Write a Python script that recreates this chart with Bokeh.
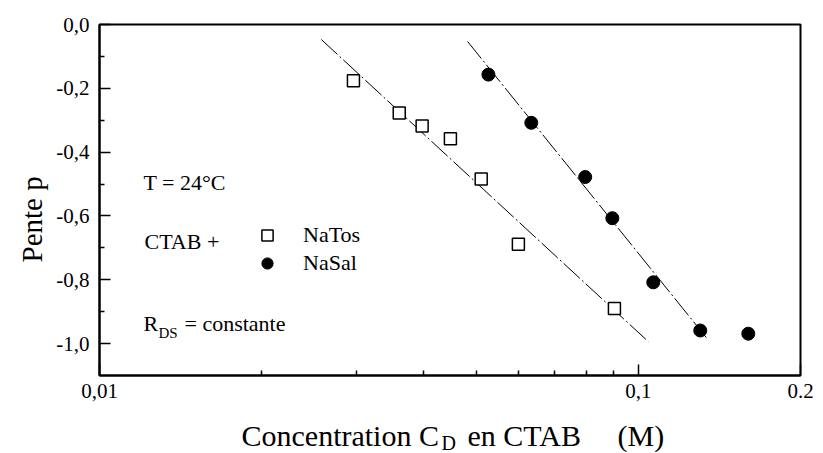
from bokeh.plotting import figure
from bokeh.layouts import column
from bokeh.models import FixedTicker, Label, Legend, LegendItem, Range1d, Title
from bokeh.embed import file_html
from bokeh.resources import INLINE

# ---- data ----
natos_c = [0.0296, 0.0360, 0.0397, 0.0448, 0.0511, 0.0599, 0.0903]
natos_p = [-0.176, -0.277, -0.318, -0.358, -0.484, -0.689, -0.890]
nasal_c = [0.0527, 0.0633, 0.0797, 0.0895, 0.1066, 0.1303, 0.160]
nasal_p = [-0.157, -0.308, -0.478, -0.607, -0.808, -0.959, -0.969]

fit_natos_c = [0.0258, 0.1044]
fit_natos_p = [-0.047, -0.994]
fit_nasal_c = [0.0482, 0.1337]
fit_nasal_p = [-0.053, -0.981]

y_ticks = [0.0, -0.2, -0.4, -0.6, -0.8, -1.0]
y_tick_labels = ["0,0", "-0,2", "-0,4", "-0,6", "-0,8", "-1,0"]
y_minor = [-0.1, -0.3, -0.5, -0.7, -0.9]
x_ticks = [0.01, 0.1, 0.2]
x_tick_labels = ["0,01", "0,1", "0.2"]
x_minor = [0.02, 0.03, 0.04, 0.05, 0.06, 0.07, 0.08, 0.09]

FONT = "Liberation Serif"

p = figure(width=815, height=410, x_axis_type="log",
           x_range=Range1d(0.01, 0.2), y_range=Range1d(-1.1, 0.0),
           output_backend="svg", toolbar_location=None,
           min_border_left=99, min_border_right=15, min_border_top=24, min_border_bottom=35)
p.xgrid.visible = False
p.ygrid.visible = False
p.outline_line_color = "black"
p.outline_line_width = 2
p.background_fill_color = "white"
p.border_fill_color = "white"

# axes
p.yaxis.ticker = FixedTicker(ticks=y_ticks, minor_ticks=y_minor)
p.yaxis.major_label_overrides = dict(zip(y_ticks, y_tick_labels))
p.xaxis.ticker = FixedTicker(ticks=x_ticks, minor_ticks=x_minor)
p.xaxis.major_label_overrides = dict(zip(x_ticks, x_tick_labels))
for ax in (p.xaxis[0], p.yaxis[0]):
    ax.axis_line_width = 2
    ax.axis_line_color = "black"
    ax.major_tick_in = 11
    ax.major_tick_out = 0
    ax.minor_tick_in = 5
    ax.minor_tick_out = 0
    ax.major_tick_line_width = 1.5
    ax.minor_tick_line_width = 1.5
    ax.major_tick_line_color = "black"
    ax.minor_tick_line_color = "black"
    ax.major_label_text_font = FONT
    ax.major_label_text_font_size = "21px"
    ax.major_label_text_color = "black"
p.yaxis.major_label_standoff = 10
p.xaxis.major_label_standoff = 8

# y axis title (offset so it sits where the reference has it)
p.add_layout(Title(text="Pente p", align="left", offset=113, text_font=FONT,
                   text_font_size="29px", text_font_style="normal",
                   text_color="black", standoff=12), "left")

# fit lines
p.line(fit_natos_c, fit_natos_p, line_color="black", line_width=1, line_dash="22 3 2 3")
p.line(fit_nasal_c, fit_nasal_p, line_color="black", line_width=1, line_dash="22 3 2 3")

# points
sq = p.scatter(natos_c, natos_p, marker="square", size=12, fill_color="white",
               line_color="black", line_width=1.5)
ci = p.scatter(nasal_c, nasal_p, marker="circle", size=13, fill_color="black",
               line_color="black")

legend = Legend(items=[LegendItem(label="NaTos", renderers=[sq]),
                       LegendItem(label="NaSal", renderers=[ci])],
                location=(154, 98), glyph_width=28, glyph_height=28, spacing=0,
                padding=0, margin=0, label_standoff=22, border_line_alpha=0,
                background_fill_alpha=0, label_text_font=FONT,
                label_text_font_size="22px", label_text_color="black")
p.add_layout(legend)

def lab(fig, x, y, text, size="22px", units="screen"):
    fig.add_layout(Label(x=x, y=y, x_units=units, y_units=units, text=text,
                         text_font=FONT, text_font_size=size, text_color="black",
                         text_baseline="alphabetic", text_align="left"))

lab(p, 44, 193, "T = 24°C")
lab(p, 45, 134, "CTAB +")
lab(p, 44, 52, "R")
lab(p, 59, 43, "DS", "15px")
lab(p, 85, 52, "= constante")

# x axis title with subscript, in a strip below the plot (frame aligned with p)
p2 = figure(width=815, height=43, x_range=Range1d(99, 800), y_range=Range1d(0, 43),
            x_axis_location=None, y_axis_location=None, output_backend="svg",
            toolbar_location=None, min_border_left=99, min_border_right=15,
            min_border_top=0, min_border_bottom=0)
p2.xgrid.visible = False
p2.ygrid.visible = False
p2.outline_line_color = None
p2.background_fill_color = "white"
p2.border_fill_color = "white"
lab(p2, 241, 18, "Concentration C", "30px", "data")
lab(p2, 441, 11, "D", "20px", "data")
lab(p2, 467, 18, "en CTAB", "30px", "data")
lab(p2, 617, 18, "(M)", "30px", "data")

layout = column(p, p2, spacing=0)
open("out.html", "w").write(file_html(layout, INLINE))
